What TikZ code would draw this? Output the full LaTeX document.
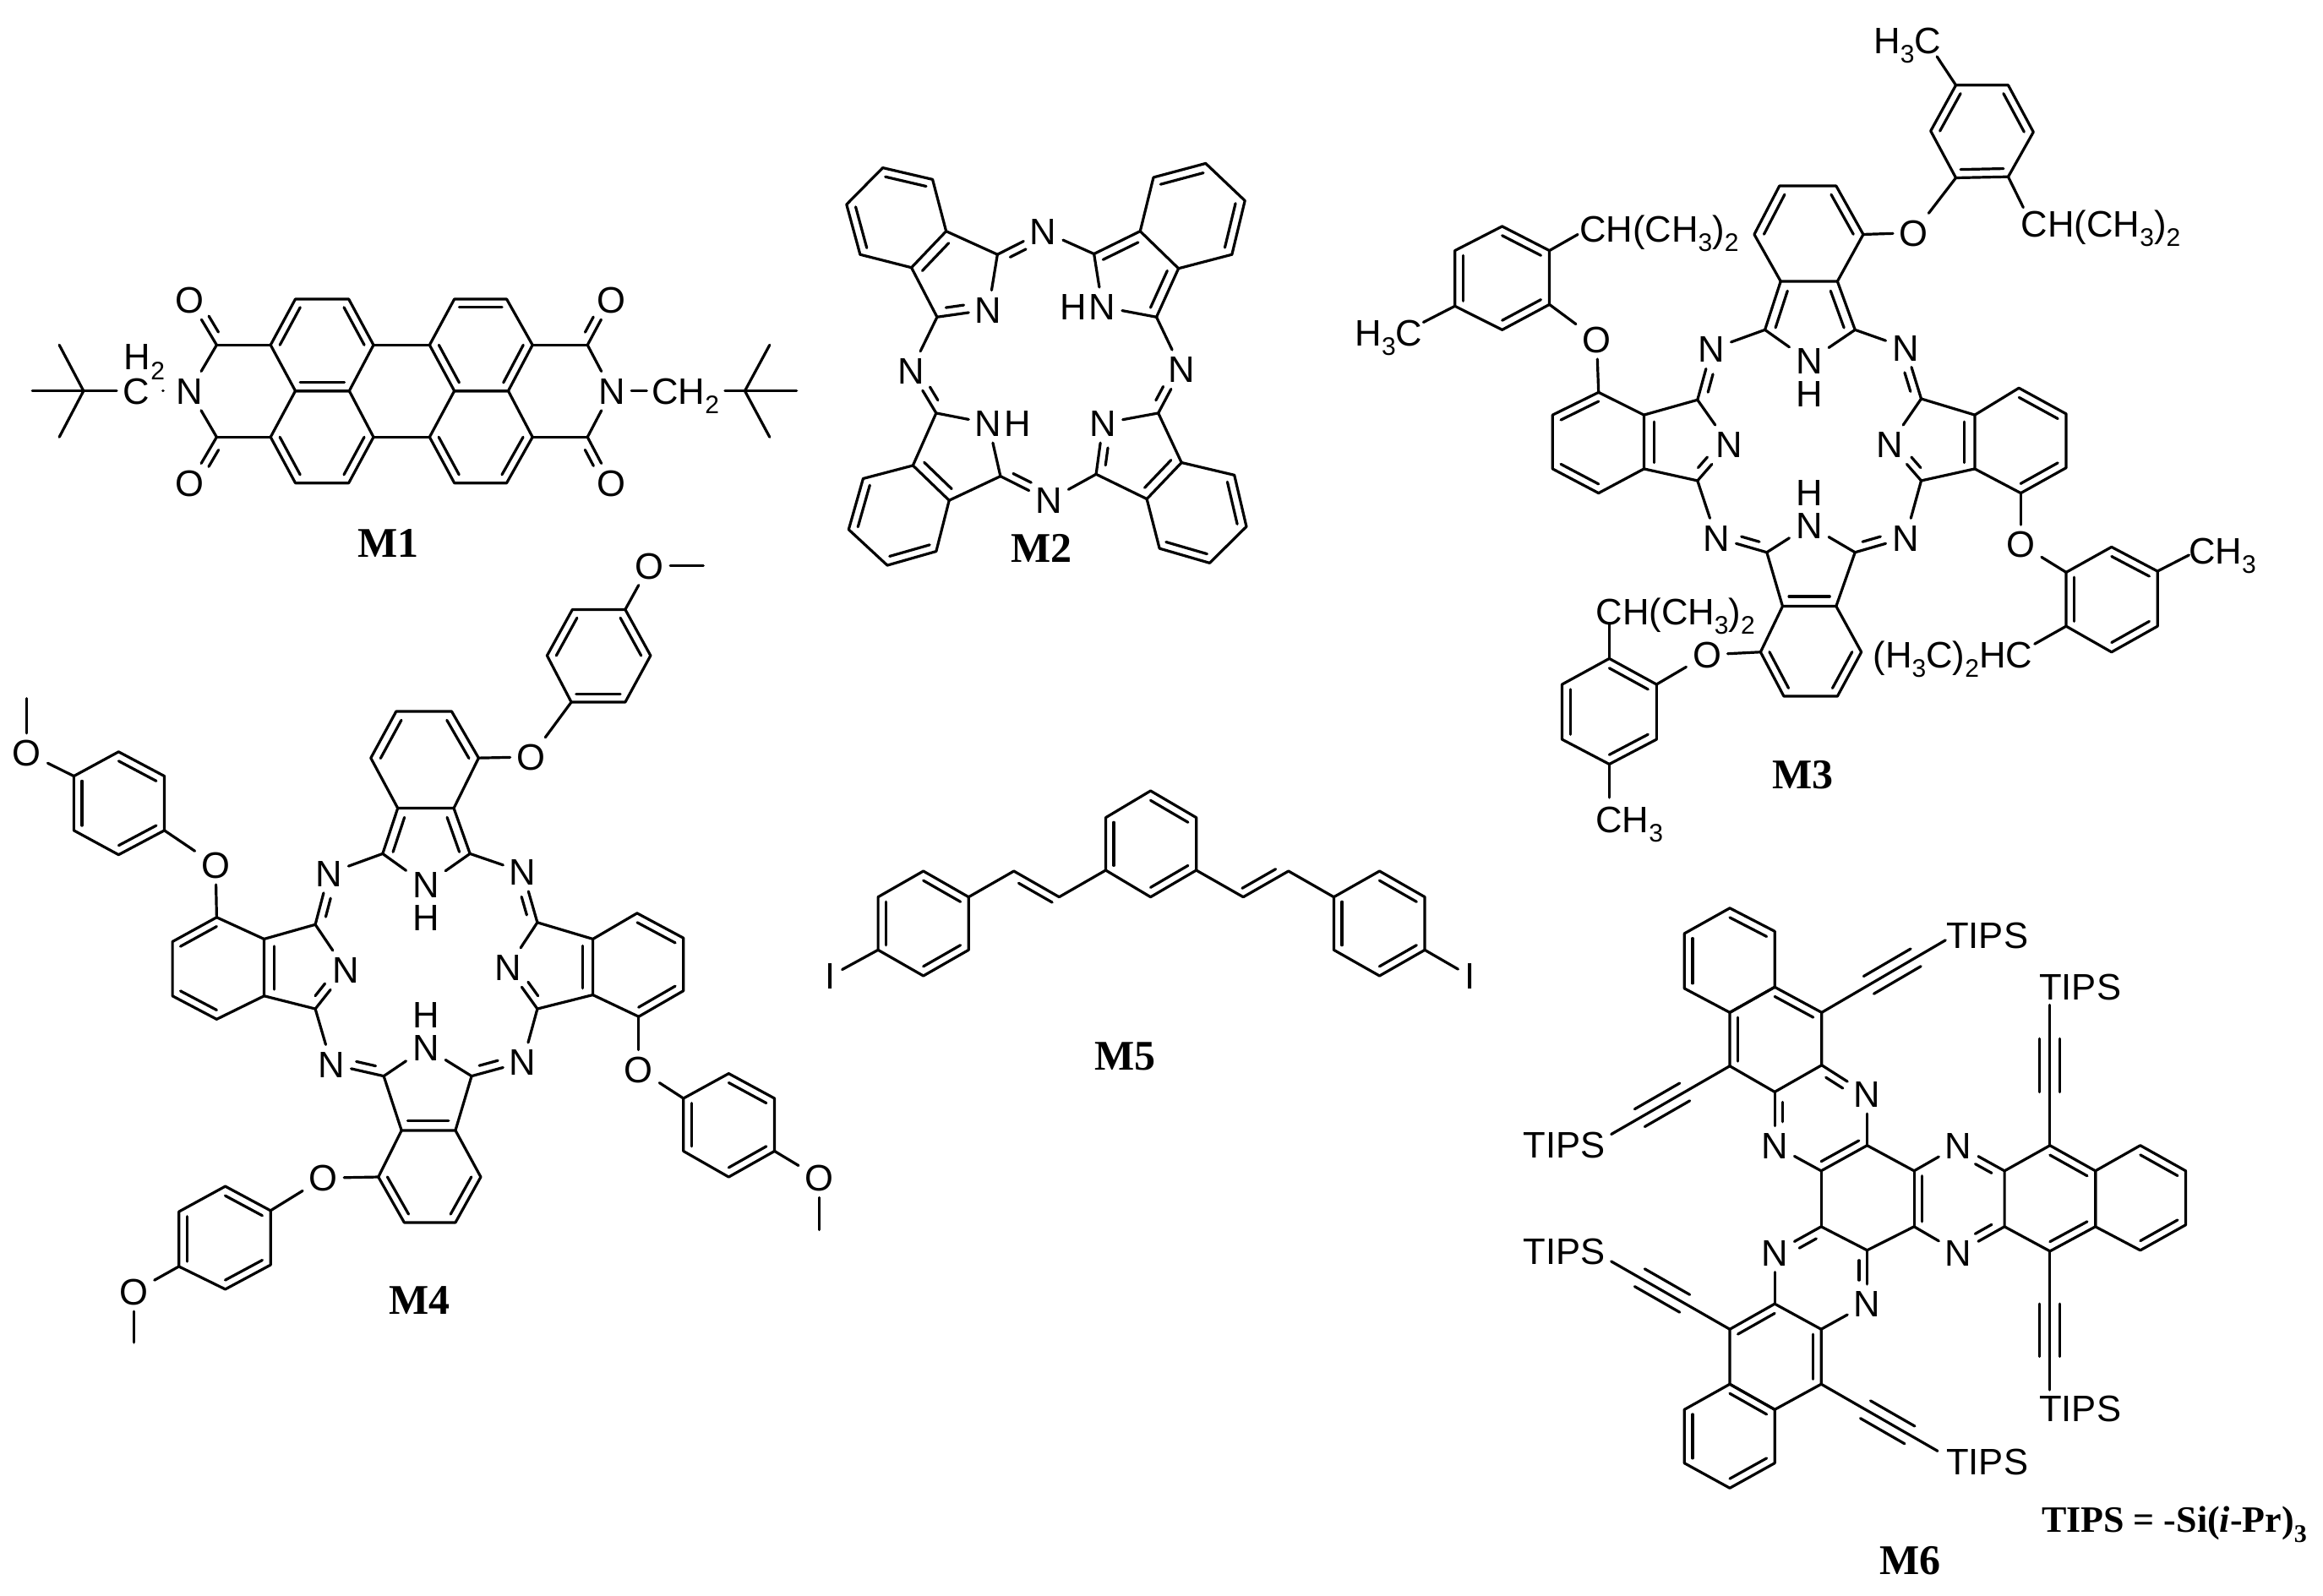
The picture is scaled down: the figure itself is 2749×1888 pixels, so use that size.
\documentclass[tikz,border=0pt]{standalone}
\usepackage{fontspec}
\setmainfont{Liberation Sans}
\newfontfamily\labelfont{Liberation Serif}
\usetikzlibrary{calc, positioning}

\newcommand{\atomfont}{\fontsize{10.9}{13}\selectfont}
\newcommand{\sbs}[1]{\raisebox{-2.8pt}{\fontsize{7.5}{9}\selectfont #1}}
% inner line of a ring bond, pulled towards the ring centre
\newcommand{\inl}[4][.18]{\draw ($(#2.center)!#1!(#4)$) -- ($(#3.center)!#1!(#4)$);}
% second line of a double bond, beside the first
\newcommand{\sideb}[4][shorten <=3pt,shorten >=7pt]{\draw[#1] ($(#2.center)!#4!90:(#3.center)$) -- ($(#3.center)!#4!-90:(#2.center)$);}
\newcommand{\bonds}[1]{\foreach \p/\q in {#1}{\draw (\p) -- (\q);}}
\newcommand{\hexring}[7]{%
  \coordinate (#11) at (#2); \coordinate (#12) at (#3); \coordinate (#13) at (#4);
  \coordinate (#14) at (#5); \coordinate (#15) at (#6); \coordinate (#16) at (#7);
  \coordinate (#10) at ($(#11)!.5!(#14)$);
  \draw (#11) -- (#12) -- (#13) -- (#14) -- (#15) -- (#16) -- cycle;}
\newcommand{\kekA}[1]{\inl{#11}{#12}{#10}\inl{#13}{#14}{#10}\inl{#15}{#16}{#10}}
\newcommand{\kekB}[1]{\inl{#12}{#13}{#10}\inl{#14}{#15}{#10}\inl{#16}{#11}{#10}}
\newcommand{\alkyne}[2]{%
  \draw (#1) -- (#2);
  \draw ($($(#1)!.38!(#2)$)!3pt!90:(#2)$) -- ($($(#1)!.76!(#2)$)!3pt!-90:(#1)$);
  \draw ($($(#1)!.38!(#2)$)!-3pt!90:(#2)$) -- ($($(#1)!.76!(#2)$)!-3pt!-90:(#1)$);}
% the macrocycle shared by M3 and M4
\newcommand{\pccore}[1]{%
  \foreach \s/\p/\q in {t/t5/ta,t/ta/tn,t/tn/tg,t/tg/t4,l/l6/la,l/la/ln,l/ln/lb,l/lb/l5,
    b/b1/ba,b/ba/bn,b/bn/bb,b/bb/b2,r/r6/ra,r/ra/rn,r/rn/rb,r/rb/r5,
    t/ta/ma,t/ma/la,t/lb/mc,t/mc/ba,t/bb/md,t/md/rb,t/ra/mb,t/mb/tg,
    t/t3/oa,t/oa/a1,t/l1/ob,t/ob/p1,t/b6/oc,t/oc/q1,t/r4/od,t/od/s1}{\draw (#1\p) -- (#1\q);}
  \coordinate (#1ty) at ($(#1tn.center)!.5!($(#1t4)!.5!(#1t5)$)$);
  \coordinate (#1ly) at ($(#1ln.center)!.5!($(#1l5)!.5!(#1l6)$)$);
  \coordinate (#1by) at ($(#1bn.center)!.5!($(#1b1)!.5!(#1b2)$)$);
  \coordinate (#1ry) at ($(#1rn.center)!.5!($(#1r5)!.5!(#1r6)$)$);
  \inl[.24]{#1t5}{#1ta}{#1ty}\inl[.24]{#1t4}{#1tg}{#1ty}
  \inl[.24]{#1l5}{#1l6}{#1ly}\inl[.24]{#1b1}{#1b2}{#1by}\inl[.24]{#1r5}{#1r6}{#1ry}
  \inl{#1t6}{#1t1}{#1t0}\inl{#1t2}{#1t3}{#1t0}
  \inl{#1l1}{#1l2}{#1l0}\inl{#1l3}{#1l4}{#1l0}
  \inl{#1b3}{#1b4}{#1b0}\inl{#1b5}{#1b6}{#1b0}
  \inl{#1r1}{#1r2}{#1r0}\inl{#1r3}{#1r4}{#1r0}
  \kekB{#1a}\kekA{#1p}\kekA{#1q}\kekB{#1s}
  \sideb{#1la}{#1ma}{-2.4pt}\sideb{#1ra}{#1mb}{2.4pt}
  \sideb{#1lb}{#1ln}{2.4pt}\sideb{#1rb}{#1rn}{-2.4pt}
  \sideb{#1ba}{#1mc}{-2.4pt}\sideb{#1bb}{#1md}{2.4pt}
  \node[atom,below=-1.9pt of #1tn] (#1th) {H};
  \node[atom,above=-1.9pt of #1bn] (#1bh) {H};}

\begin{document}
\begin{tikzpicture}[
  x=.25pt, y=-.25pt, line width=.8pt, line join=round, line cap=round,
  atom/.style = {inner sep=1.5pt, text height=7.8pt, text depth=0pt, font=\atomfont},
  sublabel/.style = {inner sep=0pt, text height=7.8pt, text depth=0pt, font=\atomfont},
  molname/.style = {inner sep=0pt, text height=8.3pt, text depth=0pt,
    font=\labelfont\bfseries\fontsize{12.5}{14}\selectfont},
  atM1/.style = {shift={(0,260)}, xscale=.6378, yscale=.3333},
  atM2/.style = {shift={(950,160)}, xscale=.3571, yscale=.3444},
  atM3/.style = {shift={(1580,0)}, xscale=.7457, yscale=.6378},
  atM4/.style = {shift={(0,640)}, xscale=.6378, yscale=.6122},
  atM5/.style = {shift={(960,920)}, xscale=.5102, yscale=.3333},
  atM6/.style = {shift={(1780,1060)}, xscale=.618, yscale=.528}
  ]
  \useasboundingbox (0,0) rectangle (2749,1888);

  % M1
  \begin{scope}[atM1]
    \hexring{m1a}{548,282}{647,282}{693,445}{648,608}{548,608}{502,445}
    \hexring{m1b}{548,608}{648,608}{693,772}{647,935}{548,935}{502,772}
    \hexring{m1c}{843,282}{940,282}{988,445}{943,608}{843,608}{797,445}
    \hexring{m1d}{843,608}{943,608}{988,772}{940,935}{843,935}{797,772}
    \coordinate (m1e) at (402,445);
    \coordinate (m1f) at (402,772);
    \coordinate (m1g) at (1090,445);
    \coordinate (m1h) at (1090,772);
    \node[atom] (m1nl) at (352,608) {N};
    \node[atom] (m1nr) at (1135,608) {N};
    \node[atom] (m1oa) at (352,285) {O};
    \node[atom] (m1ob) at (352,935) {O};
    \node[atom] (m1oc) at (1135,285) {O};
    \node[atom] (m1od) at (1135,935) {O};
    \coordinate (m1ta) at (155,608);
    \coordinate (m1tb) at (60,608);
    \coordinate (m1tc) at (110,445);
    \coordinate (m1td) at (110,772);
    \node[atom] (m1cl) at (253,608) {C};
    \node[sublabel] (m1hl) at (268,487) {H\sbs{2}};
    \coordinate (m1ra) at (1382,608);
    \coordinate (m1rb) at (1478,608);
    \coordinate (m1rc) at (1428,445);
    \coordinate (m1rd) at (1428,772);
    \coordinate (m1re) at (1345,608);
    \coordinate (m1rf) at (1200,608);
    \node[sublabel] (m1ch) at (1272,608) {CH\sbs{2}};
    \node[molname] (m1name) at (720,1150) {M1};
  \end{scope}
  \bonds{m1a3/m1c6,m1b3/m1d6,m1a6/m1e,m1b6/m1f,m1c3/m1g,m1d3/m1h,
    m1e/m1nl,m1f/m1nl,m1g/m1nr,m1h/m1nr,m1e/m1oa,m1f/m1ob,m1g/m1oc,m1h/m1od,
    m1ta/m1tb,m1ta/m1tc,m1ta/m1td,m1ta/m1cl,
    m1ra/m1rb,m1ra/m1rc,m1ra/m1rd,m1ra/m1re,m1nr/m1rf}
  \draw[shorten <=2pt,shorten >=2pt] (m1cl) -- (m1nl);
  \kekB{m1a}\inl{m1b3}{m1b4}{m1b0}\inl{m1b5}{m1b6}{m1b0}
  \kekA{m1c}\inl{m1d3}{m1d4}{m1d0}\inl{m1d5}{m1d6}{m1d0}
  \sideb{m1e}{m1oa}{-2.4pt}\sideb{m1f}{m1ob}{2.4pt}
  \sideb{m1g}{m1oc}{2.4pt}\sideb{m1h}{m1od}{-2.4pt}

  % M2
  \begin{scope}[atM2]
    \hexring{m2a}{265,112}{430,152}{475,330}{360,455}{190,410}{145,238}
    \hexring{m2b}{1162,145}{1335,97}{1465,225}{1422,410}{1245,458}{1118,330}
    \hexring{m2c}{1255,1125}{1430,1168}{1470,1345}{1348,1470}{1182,1420}{1140,1250}
    \hexring{m2d}{365,1135}{200,1180}{152,1355}{280,1478}{442,1430}{485,1255}
    \coordinate (m2ca) at (445,625);
    \coordinate (m2cb) at (645,410);
    \coordinate (m2cc) at (1172,625);
    \coordinate (m2cd) at (965,408);
    \coordinate (m2ce) at (1178,955);
    \coordinate (m2cf) at (972,1165);
    \coordinate (m2cg) at (442,955);
    \coordinate (m2ch) at (655,1172);
    \coordinate (m2oa) at (510,500);
    \coordinate (m2ob) at (1090,490);
    \coordinate (m2oc) at (1110,1090);
    \coordinate (m2od) at (520,1090);
    \node[atom] (m2na) at (615,600) {N};
    \node[atom] (m2nb) at (993,590) {N};
    \node[atom] (m2nc) at (995,990) {N};
    \node[atom] (m2nd) at (615,990) {N};
    \node[atom] (m2me) at (797,330) {N};
    \node[atom] (m2mf) at (1255,805) {N};
    \node[atom] (m2mg) at (815,1255) {N};
    \node[atom] (m2mh) at (358,810) {N};
    \node[molname] (m2name) at (790,1420) {M2};
  \end{scope}
  \node[atom,left=-3pt of m2nb] (m2hb) {H};
  \node[atom,right=-3pt of m2nd] (m2hd) {H};
  \bonds{m2a3/m2cb,m2cb/m2na,m2na/m2ca,m2ca/m2a4,m2cd/m2b6,m2cd/m2nb,m2nb/m2cc,m2cc/m2b5,
    m2ce/m2c1,m2ce/m2nc,m2nc/m2cf,m2cf/m2c6,m2cg/m2d1,m2cg/m2nd,m2nd/m2ch,m2ch/m2d6,
    m2cb/m2me,m2me/m2cd,m2cc/m2mf,m2mf/m2ce,m2cf/m2mg,m2mg/m2ch,m2cg/m2mh,m2mh/m2ca}
  \inl{m2a1}{m2a2}{m2a0}\inl{m2a5}{m2a6}{m2a0}\inl[.24]{m2a3}{m2a4}{m2oa}
  \inl{m2b1}{m2b2}{m2b0}\inl{m2b3}{m2b4}{m2b0}\inl[.24]{m2b5}{m2cc}{m2ob}\inl[.24]{m2cd}{m2b6}{m2ob}
  \inl{m2c2}{m2c3}{m2c0}\inl{m2c4}{m2c5}{m2c0}\inl[.24]{m2c1}{m2c6}{m2oc}
  \inl{m2d2}{m2d3}{m2d0}\inl{m2d4}{m2d5}{m2d0}\inl[.24]{m2d1}{m2d6}{m2od}
  \sideb{m2ca}{m2na}{2.4pt}\sideb{m2cb}{m2me}{-2.4pt}\sideb{m2ce}{m2mf}{2.4pt}
  \sideb{m2cf}{m2nc}{-2.4pt}\sideb{m2ch}{m2mg}{2.4pt}\sideb{m2cg}{m2mh}{-2.4pt}

  % M3
  \begin{scope}[atM3]
    \hexring{c3t}{705,345}{795,345}{838,435}{797,522}{707,522}{665,435}
    \hexring{c3l}{418,728}{345,770}{345,870}{418,915}{490,870}{490,770}
    \hexring{c3b}{710,1125}{795,1125}{835,1210}{797,1292}{712,1292}{675,1210}
    \hexring{c3r}{1085,720}{1160,768}{1160,868}{1088,915}{1015,870}{1015,770}
    \hexring{c3a}{985,330}{945,243}{985,158}{1068,158}{1108,245}{1068,328}
    \hexring{c3p}{340,565}{265,612}{190,568}{190,465}{265,420}{340,465}
    \hexring{c3q}{510,1270}{435,1222}{360,1270}{360,1372}{435,1418}{510,1372}
    \hexring{c3s}{1160,1062}{1232,1015}{1305,1060}{1305,1162}{1232,1210}{1160,1162}
    \coordinate (c3ta) at (682,612);
    \coordinate (c3tg) at (825,612);
    \coordinate (c3la) at (575,742);
    \coordinate (c3lb) at (575,892);
    \coordinate (c3ba) at (685,1025);
    \coordinate (c3bb) at (825,1025);
    \coordinate (c3ra) at (930,740);
    \coordinate (c3rb) at (930,892);
    \node[atom] (c3tn) at (752,670) {N};
    \node[atom] (c3ln) at (625,825) {N};
    \node[atom] (c3bn) at (752,975) {N};
    \node[atom] (c3rn) at (880,825) {N};
    \node[atom] (c3ma) at (597,648) {N};
    \node[atom] (c3mb) at (905,645) {N};
    \node[atom] (c3mc) at (605,998) {N};
    \node[atom] (c3md) at (905,998) {N};
    \node[atom] (c3oa) at (918,432) {O};
    \node[atom] (c3ob) at (415,630) {O};
    \node[atom] (c3oc) at (590,1215) {O};
    \node[atom] (c3od) at (1088,1010) {O};
    \coordinate (c3ea) at (955,105);
    \coordinate (c3eb) at (1092,385);
    \coordinate (c3ec) at (385,435);
    \coordinate (c3ed) at (140,598);
    \coordinate (c3ee) at (435,1158);
    \coordinate (c3ef) at (435,1480);
    \coordinate (c3eg) at (1355,1030);
    \coordinate (c3eh) at (1110,1195);
    \node[sublabel] (c3la1) at (908,75) {H\sbs{3}C};
    \node[sublabel] (c3la2) at (1215,415) {CH(CH\sbs{3})\sbs{2}};
    \node[sublabel] (c3la3) at (514,425) {CH(CH\sbs{3})\sbs{2}};
    \node[sublabel] (c3la4) at (85,617) {H\sbs{3}C};
    \node[sublabel] (c3la5) at (540,1135) {CH(CH\sbs{3})\sbs{2}};
    \node[sublabel] (c3la6) at (467,1520) {CH\sbs{3}};
    \node[sublabel] (c3la7) at (1408,1022) {CH\sbs{3}};
    \node[sublabel] (c3la8) at (980,1215) {(H\sbs{3}C)\sbs{2}HC};
    \node[molname] (c3name) at (742,1438) {M3};
  \end{scope}
  \pccore{c3}
  \bonds{c3a3/c3ea,c3a6/c3eb,c3p6/c3ec,c3p3/c3ed,c3q2/c3ee,c3q5/c3ef,c3s3/c3eg,c3s6/c3eh}

  % M4
  \begin{scope}[atM4]
    \hexring{c4t}{735,330}{838,330}{888,420}{842,517}{738,517}{688,420}
    \hexring{c4l}{402,728}{320,775}{320,880}{402,925}{490,880}{490,770}
    \hexring{c4b}{745,1140}{845,1140}{892,1230}{845,1318}{750,1318}{702,1230}
    \hexring{c4r}{1182,720}{1268,768}{1268,870}{1185,920}{1100,878}{1100,770}
    \hexring{c4a}{1060,312}{1015,222}{1062,133}{1160,133}{1207,222}{1160,312}
    \hexring{c4p}{305,560}{220,607}{137,560}{137,455}{220,408}{305,455}
    \hexring{c4q}{502,1295}{418,1248}{332,1297}{332,1403}{418,1447}{502,1400}
    \hexring{c4s}{1268,1078}{1352,1030}{1437,1078}{1437,1180}{1352,1230}{1268,1180}
    \coordinate (c4ta) at (710,605);
    \coordinate (c4tg) at (872,605);
    \coordinate (c4la) at (585,742);
    \coordinate (c4lb) at (585,905);
    \coordinate (c4ba) at (712,1035);
    \coordinate (c4bb) at (875,1035);
    \coordinate (c4ra) at (997,738);
    \coordinate (c4rb) at (997,905);
    \node[atom] (c4tn) at (790,665) {N};
    \node[atom] (c4ln) at (642,830) {N};
    \node[atom] (c4bn) at (790,980) {N};
    \node[atom] (c4rn) at (942,825) {N};
    \node[atom] (c4ma) at (610,643) {N};
    \node[atom] (c4mb) at (970,640) {N};
    \node[atom] (c4mc) at (615,1012) {N};
    \node[atom] (c4md) at (970,1008) {N};
    \node[atom] (c4oa) at (985,418) {O};
    \node[atom] (c4ob) at (400,627) {O};
    \node[atom] (c4oc) at (600,1232) {O};
    \node[atom] (c4od) at (1185,1022) {O};
    \node[atom] (c4me) at (1205,48) {O};
    \node[atom] (c4mf) at (50,410) {O};
    \node[atom] (c4mg) at (248,1452) {O};
    \node[atom] (c4mh) at (1520,1232) {O};
    \coordinate (c4ea) at (1305,48);
    \coordinate (c4eb) at (50,305);
    \coordinate (c4ec) at (248,1550);
    \coordinate (c4ed) at (1520,1332);
    \node[molname] (c4name) at (778,1468) {M4};
  \end{scope}
  \pccore{c4}
  \bonds{c4a4/c4me,c4me/c4ea,c4p4/c4mf,c4mf/c4eb,c4q4/c4mg,c4mg/c4ec,c4s4/c4mh,c4mh/c4ed}

  % M5
  \begin{scope}[atM5]
    \hexring{m5a}{787,48}{893,143}{893,330}{787,425}{683,330}{683,143}
    \hexring{m5b}{365,425}{260,333}{155,425}{155,613}{260,705}{365,613}
    \hexring{m5c}{1212,425}{1318,333}{1423,425}{1423,613}{1318,705}{1212,613}
    \coordinate (m5p) at (575,425);
    \coordinate (m5q) at (470,333);
    \coordinate (m5r) at (1002,425);
    \coordinate (m5s) at (1107,333);
    \node[atom] (m5il) at (45,705) {I};
    \node[atom] (m5ir) at (1527,705) {I};
    \node[molname] (m5name) at (728,990) {M5};
  \end{scope}
  \bonds{m5a5/m5p,m5p/m5q,m5q/m5b1,m5a3/m5r,m5r/m5s,m5s/m5c1,m5b4/m5il,m5c4/m5ir}
  \kekA{m5a}\kekA{m5b}\kekB{m5c}
  \sideb[shorten <=1pt,shorten >=3pt]{m5p}{m5q}{2.4pt}
  \sideb[shorten <=1pt,shorten >=3pt]{m5r}{m5s}{2.4pt}

  % M6
  \begin{scope}[atM6]
    \hexring{m6a}{432,28}{518,80}{518,205}{432,262}{345,208}{345,85}
    \hexring{m6b}{518,205}{608,262}{608,380}{518,440}{432,382}{432,262}
    \hexring{m6f}{958,617}{1045,560}{1132,617}{1132,742}{1045,797}{958,742}
    \hexring{m6g}{1132,617}{1218,560}{1305,617}{1305,738}{1218,795}{1132,742}
    \hexring{m6c}{518,915}{607,972}{607,1095}{518,1152}{432,1095}{432,972}
    \hexring{m6d}{432,1095}{518,1152}{518,1272}{432,1328}{345,1272}{345,1152}
    \coordinate (m6p) at (695,560);
    \coordinate (m6q) at (607,617);
    \coordinate (m6r) at (785,617);
    \coordinate (m6s) at (785,742);
    \coordinate (m6u) at (695,795);
    \coordinate (m6v) at (607,742);
    \coordinate (m6ox) at (607,500);
    \coordinate (m6oy) at (871,680);
    \node[atom] (m6na) at (695,445) {N};
    \node[atom] (m6nb) at (518,560) {N};
    \node[atom] (m6nc) at (870,560) {N};
    \node[atom] (m6nd) at (518,800) {N};
    \node[atom] (m6ne) at (870,800) {N};
    \node[atom] (m6nf) at (695,915) {N};
    \coordinate (m6ea) at (845,100);
    \coordinate (m6eb) at (205,535);
    \coordinate (m6ec) at (1045,245);
    \coordinate (m6ed) at (1045,1108);
    \coordinate (m6ee) at (205,820);
    \coordinate (m6ef) at (830,1245);
    \node[sublabel] (m6ta) at (925,88) {TIPS};
    \node[sublabel] (m6tb) at (115,558) {TIPS};
    \node[sublabel] (m6tc) at (1103,205) {TIPS};
    \node[sublabel] (m6td) at (1103,1150) {TIPS};
    \node[sublabel] (m6te) at (115,798) {TIPS};
    \node[sublabel] (m6tf) at (925,1268) {TIPS};
    \node[molname,font=\labelfont\bfseries\fontsize{11}{13}\selectfont,text height=7.3pt]
      (m6key) at (1283,1400) {TIPS = -Si(\textit{i}-Pr)\sbs{3}};
    \node[molname] (m6name) at (778,1490) {M6};
  \end{scope}
  \bonds{m6b3/m6na,m6na/m6p,m6p/m6q,m6q/m6nb,m6nb/m6b4,m6p/m6r,m6r/m6s,m6s/m6u,m6u/m6v,m6v/m6q,
    m6r/m6nc,m6nc/m6f1,m6f6/m6ne,m6ne/m6s,m6v/m6nd,m6nd/m6c1,m6c2/m6nf,m6nf/m6u}
  \inl{m6a1}{m6a2}{m6a0}\inl{m6a5}{m6a6}{m6a0}
  \inl{m6b1}{m6b2}{m6b0}\inl{m6b5}{m6b6}{m6b0}
  \inl{m6f2}{m6f3}{m6f0}\inl{m6f4}{m6f5}{m6f0}
  \inl{m6g2}{m6g3}{m6g0}\inl{m6g4}{m6g5}{m6g0}
  \inl{m6c2}{m6c3}{m6c0}\inl{m6c6}{m6c1}{m6c0}
  \kekA{m6d}
  \inl{m6p}{m6q}{m6ox}\inl{m6r}{m6s}{m6oy}
  \sideb{m6b3}{m6na}{-2.4pt}\sideb{m6b4}{m6nb}{2.4pt}
  \sideb{m6f1}{m6nc}{2.4pt}\sideb{m6f6}{m6ne}{-2.4pt}
  \sideb{m6v}{m6nd}{2.4pt}\sideb{m6u}{m6nf}{-2.4pt}
  \alkyne{m6b2}{m6ea}\alkyne{m6b5}{m6eb}
  \alkyne{m6f2}{m6ec}\alkyne{m6f5}{m6ed}
  \alkyne{m6c6}{m6ee}\alkyne{m6c3}{m6ef}
\end{tikzpicture}
\end{document}
